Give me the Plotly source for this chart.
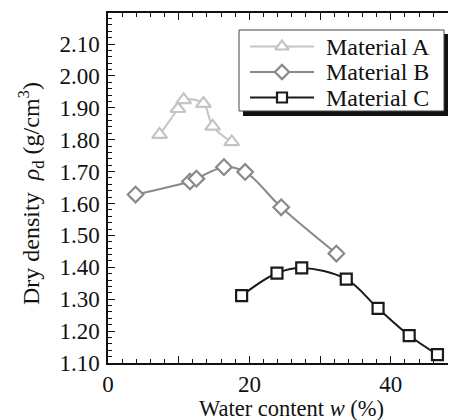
import plotly.graph_objects as go

# ---- data ----
names = ["Material A", "Material B", "Material C"]
a_w = [7.3, 9.9, 10.7, 13.5, 14.8, 17.5]
a_rho = [1.816, 1.897, 1.925, 1.913, 1.842, 1.793]
b_w = [3.9, 11.6, 12.5, 16.4, 19.4, 24.5, 32.3]
b_rho = [1.628, 1.669, 1.678, 1.714, 1.699, 1.588, 1.443]
c_w = [18.9, 23.9, 27.4, 33.7, 38.2, 42.6, 46.6]
c_rho = [1.311, 1.382, 1.398, 1.363, 1.271, 1.186, 1.126]
x_tickvals = [0, 10, 20, 30, 40]
x_ticktext = ["0", "", "20", "", "40"]
y_tickvals = [1.10, 1.20, 1.30, 1.40, 1.50, 1.60, 1.70, 1.80, 1.90, 2.00, 2.10]

colors = ["#c4c4c4", "#8a8a8a", "#1a1a1a"]
symbols = ["triangle-up", "diamond", "square"]
sizes = [13, 12, 11]
FONT = "Liberation Serif"

W, H = 450, 420
ML, MR, MT, MB = 108, 2, 13, 57
px_left, px_right = ML, W - MR
px_top, px_bot = MT, H - MB


def paper_x(px):
    return (px - px_left) / (px_right - px_left)


def paper_y(py):
    return (px_bot - py) / (px_bot - px_top)


fig = go.Figure()
series = [(a_w, a_rho), (b_w, b_rho), (c_w, c_rho)]
for (xs, ys), name, col, sym, sz in zip(series, names, colors, symbols, sizes):
    fig.add_trace(go.Scatter(
        x=xs, y=ys, name=name, mode="lines+markers",
        line=dict(color=col, width=2, shape="spline", smoothing=1.0),
        marker=dict(symbol=sym, size=sz, color="white", line=dict(color=col, width=2.2)),
        showlegend=False, cliponaxis=False,
    ))

# ---- custom legend drawn on an overlay axis measured in pixels ----
leg_rows = [46.5, 72, 97.5]
line_x0, line_x1, mark_x, text_x = 250, 314, 282, 324
for ry, name, col, sym, sz in zip(leg_rows, names, colors, symbols, sizes):
    fig.add_trace(go.Scatter(
        x=[line_x0, line_x1], y=[ry, ry], mode="lines", xaxis="x2", yaxis="y2",
        line=dict(color=col, width=2), showlegend=False, hoverinfo="skip"))
    fig.add_trace(go.Scatter(
        x=[mark_x], y=[ry], mode="markers", xaxis="x2", yaxis="y2",
        marker=dict(symbol=sym, size=sz - 1, color="white",
                    line=dict(color=col, width=2.2)),
        showlegend=False, hoverinfo="skip"))
    fig.add_annotation(x=text_x, y=ry, xref="x2", yref="y2", text=name,
                       showarrow=False, xanchor="left", yanchor="middle",
                       font=dict(family=FONT, size=24, color="#111"))

shapes = [
    dict(type="rect", xref="x2", yref="y2", x0=243, x1=448, y0=34, y1=116,
         fillcolor="#111111", line=dict(width=0), layer="below"),
    dict(type="rect", xref="x2", yref="y2", x0=239, x1=444, y0=30, y1=111,
         fillcolor="white", line=dict(color="#444444", width=1), layer="below"),
]

# axis titles (paper coordinates)
fig.add_annotation(x=paper_x(291), y=paper_y(408), xref="paper", yref="paper",
                   text="Water content <i>w</i> (%)", showarrow=False,
                   xanchor="center", yanchor="middle",
                   font=dict(family=FONT, size=22.5, color="#111"))
fig.add_annotation(x=paper_x(31), y=paper_y(194), xref="paper", yref="paper",
                   text="Dry density  <i>ρ</i><sub>d</sub> (g/cm<sup>3</sup>)",
                   showarrow=False, textangle=-90, xanchor="center", yanchor="middle",
                   font=dict(family=FONT, size=24, color="#111"))

xmax = (px_right - px_left) / 7.07
ymax = 1.10 + (px_bot - px_top) / 319.0

fig.update_layout(
    width=W, height=H,
    margin=dict(l=ML, r=MR, t=MT, b=MB),
    paper_bgcolor="white", plot_bgcolor="white",
    font=dict(family=FONT, size=23, color="#111"),
    shapes=shapes,
    xaxis=dict(range=[0, xmax], tickvals=x_tickvals, ticktext=x_ticktext,
               ticks="inside", ticklen=7, tickwidth=1.2, tickcolor="#111",
               showline=True, linecolor="#111", linewidth=1.5, mirror="ticks",
               showgrid=False, zeroline=False,
               tickfont=dict(family=FONT, size=23, color="#111"),
               minor=dict(dtick=2, tick0=0, ticks="inside", ticklen=4,
                          tickwidth=1, tickcolor="#111", showgrid=False)),
    yaxis=dict(range=[1.10, ymax], tickvals=y_tickvals, tickformat=".2f",
               ticks="inside", ticklen=7, tickwidth=1.2, tickcolor="#111",
               showline=True, linecolor="#111", linewidth=1.5,
               showgrid=False, zeroline=False, ticklabelstandoff=2,
               tickfont=dict(family=FONT, size=23, color="#111"),
               minor=dict(dtick=0.02, tick0=1.10, ticks="inside", ticklen=4,
                          tickwidth=1, tickcolor="#111", showgrid=False)),
    xaxis2=dict(range=[px_left, px_right], overlaying="x", visible=False,
                fixedrange=True),
    yaxis2=dict(range=[px_bot, px_top], overlaying="y", visible=False,
                fixedrange=True),
)

fig.write_html("out.html", config={"displayModeBar": False},
               post_script="document.body.style.margin='0';document.body.style.overflow='hidden';")
